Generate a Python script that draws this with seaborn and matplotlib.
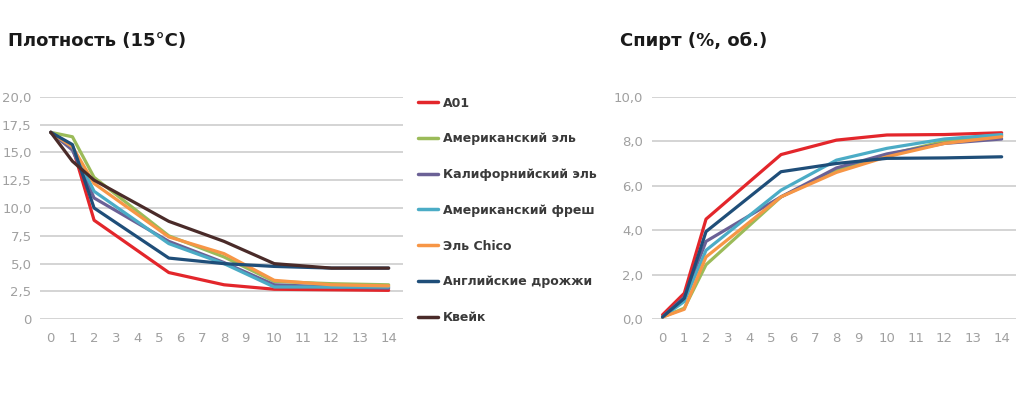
import numpy as np
import pandas as pd
import matplotlib
matplotlib.use("Agg")
import matplotlib.pyplot as plt
import seaborn as sns
from matplotlib.ticker import FuncFormatter

# Data
days = [0, 1, 2, 5.45, 8, 10, 12, 14]
strains = ["A01", "Американский эль", "Калифорнийский эль", "Американский фреш",
           "Эль Chico", "Английские дрожжи", "Квейк"]
colors = ["#e3262b", "#9bbb59", "#6b6196", "#4bacc6", "#f79646", "#1f4e79", "#4a2b29"]

density_a01 = [16.8, 15.5, 8.9, 4.2, 3.1, 2.7, 2.65, 2.6]
density_us_ale = [16.8, 16.4, 12.75, 7.5, 5.6, 3.4, 3.2, 3.1]
density_cal_ale = [16.8, 15.2, 10.9, 7.0, 5.1, 3.1, 2.9, 2.8]
density_us_fresh = [16.8, 15.5, 11.5, 6.8, 5.0, 2.9, 2.9, 2.9]
density_chico = [16.8, 15.5, 12.2, 7.4, 5.9, 3.5, 3.1, 3.0]
density_english = [16.8, 15.7, 10.0, 5.5, 5.0, 4.75, 4.6, 4.6]
density_kveik = [16.8, 14.2, 12.5, 8.8, 7.0, 5.0, 4.6, 4.6]

alcohol_a01 = [0.2, 1.17, 4.5, 7.4, 8.05, 8.28, 8.3, 8.38]
alcohol_us_ale = [0.1, 0.5, 2.45, 5.5, 6.7, 7.38, 8.0, 8.25]
alcohol_cal_ale = [0.1, 1.0, 3.5, 5.5, 6.8, 7.43, 7.9, 8.1]
alcohol_us_fresh = [0.1, 0.8, 3.1, 5.8, 7.15, 7.68, 8.1, 8.3]
alcohol_chico = [0.1, 0.45, 2.8, 5.5, 6.6, 7.3, 7.9, 8.2]
alcohol_english = [0.1, 0.94, 3.94, 6.63, 7.0, 7.23, 7.25, 7.3]
alcohol_kveik = [np.nan] * 8

density = [density_a01, density_us_ale, density_cal_ale, density_us_fresh,
           density_chico, density_english, density_kveik]
alcohol = [alcohol_a01, alcohol_us_ale, alcohol_cal_ale, alcohol_us_fresh,
           alcohol_chico, alcohol_english, alcohol_kveik]

x_ticks = list(range(15))
dens_ticks = [0, 2.5, 5, 7.5, 10, 12.5, 15, 17.5, 20]
alc_ticks = [0, 2, 4, 6, 8, 10]


def to_long(series):
    rows = []
    for name, vals in zip(strains, series):
        for d, v in zip(days, vals):
            rows.append({"day": d, "value": v, "strain": name})
    return pd.DataFrame(rows)


df_dens = to_long(density)
df_alc = to_long(alcohol)

sns.set_theme(style="white")
plt.rcParams["font.family"] = ["DejaVu Sans"]

# axis gets wider after day 9
K = 1.32


def fwd(x):
    x = np.asarray(x, dtype=float)
    return np.where(x <= 9, x, 9 + (x - 9) * K)


def inv(x):
    x = np.asarray(x, dtype=float)
    return np.where(x <= 9, x, 9 + (x - 9) / K)


fig = plt.figure(figsize=(10.24, 4.07), dpi=100)
ax1 = fig.add_axes([0.039, 0.2155, 0.3545, 0.5469])
ax2 = fig.add_axes([0.6364, 0.2155, 0.3558, 0.5469])

grid_c = "#d4d4d4"
tick_c = "#a0a0a0"
palette = dict(zip(strains, colors))

for ax, df, yt, ymax, fmt in [
    (ax1, df_dens, dens_ticks, 20, lambda v, p: "0" if v == 0 else f"{v:.1f}".replace(".", ",")),
    (ax2, df_alc, alc_ticks, 10, lambda v, p: f"{v:.1f}".replace(".", ",")),
]:
    ax.set_xscale("function", functions=(fwd, inv))
    sns.lineplot(data=df, x="day", y="value", hue="strain", palette=palette,
                 hue_order=strains, linewidth=2.3, ax=ax, legend=False, sort=False)
    ax.set_xlim(-0.5, 14.5)
    ax.set_ylim(0, ymax)
    ax.set_xticks(x_ticks)
    ax.set_xticklabels([str(t) for t in x_ticks])
    ax.set_yticks(yt)
    ax.yaxis.set_major_formatter(FuncFormatter(fmt))
    ax.grid(axis="y", color=grid_c, linewidth=1.4)
    ax.set_axisbelow(True)
    for s in ax.spines.values():
        s.set_visible(False)
    ax.tick_params(axis="both", length=0, labelsize=9.5, labelcolor=tick_c)
    ax.tick_params(axis="x", pad=9)
    ax.tick_params(axis="y", pad=6)
    ax.set_xlabel("")
    ax.set_ylabel("")

fig.text(0.008, 0.90, "Плотность (15°С)", fontsize=13, fontweight="bold",
         color="#1a1a1a", va="center", ha="left")
fig.text(0.605, 0.90, "Спирт (%, об.)", fontsize=13, fontweight="bold",
         color="#1a1a1a", va="center", ha="left")

# legend
handles = [plt.Line2D([], [], color=c, linewidth=2.5) for c in colors]
fig.legend(handles, strains, loc="upper left", bbox_to_anchor=(0.4033, 0.775),
           borderaxespad=0, frameon=False, handlelength=1.6, handletextpad=0.4,
           labelspacing=1.82, prop={"weight": "bold", "size": 9},
           labelcolor="#3a3a3a")

fig.savefig("out.png", dpi=100)
